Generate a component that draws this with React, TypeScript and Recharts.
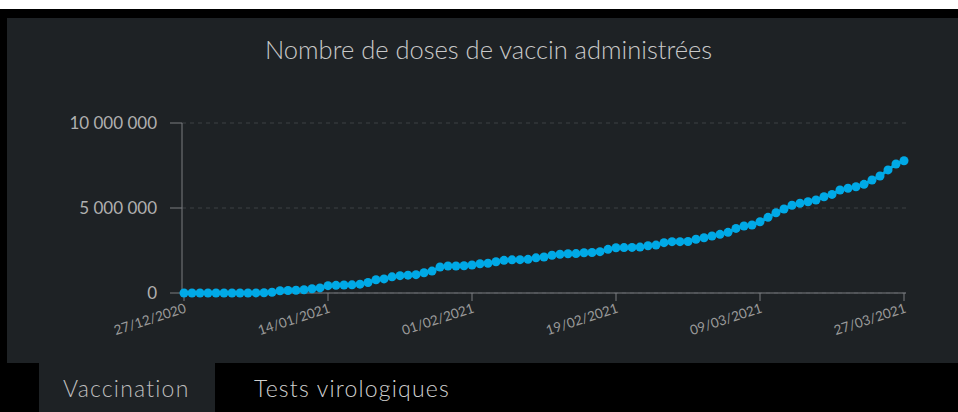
import { LineChart, Line, XAxis, YAxis, CartesianGrid } from "recharts";

// cumulative doses, one value per day from 27/12/2020 (day 0) to 27/03/2021 (day 90)
const doses = [
    0, 100, 200, 300, 500, 800, 1000, 1000, 3000, 7000,
    15000, 45000, 130000, 150000, 160000, 190000, 250000, 300000, 430000, 450000,
    470000, 480000, 520000, 620000, 780000, 830000, 950000, 1020000, 1050000, 1080000,
    1190000, 1290000, 1530000, 1590000, 1590000, 1600000, 1650000, 1720000, 1750000, 1840000,
    1920000, 1950000, 1960000, 1980000, 2070000, 2120000, 2220000, 2280000, 2310000, 2320000,
    2370000, 2380000, 2430000, 2570000, 2660000, 2670000, 2680000, 2700000, 2780000, 2820000,
    2960000, 3020000, 3020000, 3030000, 3160000, 3250000, 3350000, 3450000, 3570000, 3800000,
    3940000, 4000000, 4190000, 4450000, 4720000, 4940000, 5160000, 5280000, 5370000, 5470000,
    5660000, 5800000, 6060000, 6160000, 6250000, 6390000, 6650000, 6880000, 7240000, 7590000,
    7780000,
];

const tickDays = [0, 18, 36, 54, 72, 90];
const tickLabels = ["27/12/2020", "14/01/2021", "01/02/2021", "19/02/2021", "09/03/2021", "27/03/2021"];
const yTicks = [0, 5000000, 10000000];

const data = doses.map((v, i) => ({ day: i, doses: v }));

const panel = "#1e2225";

const fmt = (v: number) => String(v).replace(/\B(?=(\d{3})+(?!\d))/g, " ");

export default function App() {
    return (
        <div style={{ position: "absolute", left: 0, top: 0, width: 958, height: 412, background: "#000", overflow: "hidden", fontFamily: "Lato, sans-serif" }}>
            <div style={{ position: "absolute", left: 0, top: 0, width: 958, height: 9, background: "#fff" }} />
            <div style={{ position: "absolute", left: 7, top: 18, width: 951, height: 345, background: panel }} />

            {/* Title */}
            <div style={{ position: "absolute", left: 265, top: 34, whiteSpace: "nowrap", color: "#c9c9c9", fontSize: 25.5, fontWeight: 300 }}>
                Nombre de doses de vaccin administrées
            </div>

            {/* Chart */}
            <div style={{ position: "absolute", left: 0, top: 0 }}>
                <LineChart width={958} height={412} data={data} margin={{ top: 123, right: 52, bottom: 0, left: 0 }}>
                    <CartesianGrid vertical={false} strokeDasharray="4 4" stroke="#3c4044" />
                    <XAxis
                        dataKey="day"
                        type="number"
                        domain={[0, 90]}
                        ticks={tickDays}
                        tickFormatter={(d) => tickLabels[tickDays.indexOf(d)] ?? ""}
                        padding={{ left: 2, right: 2 }}
                        stroke="#7a7d80"
                        tickSize={8}
                        tickMargin={2}
                        angle={-18}
                        textAnchor="end"
                        tick={{ fill: "#9a9a9a", fontSize: 13.5 }}
                        height={119}
                    />
                    <YAxis
                        domain={[0, 10000000]}
                        ticks={yTicks}
                        tickFormatter={fmt}
                        width={182}
                        stroke="#7a7d80"
                        tickSize={12}
                        tickMargin={13}
                        tick={{ fill: "#b0b0b0", fontSize: 17 }}
                    />
                    <Line
                        type="linear"
                        dataKey="doses"
                        stroke="#00a9e6"
                        strokeWidth={3}
                        dot={{ r: 4.5, fill: "#00a9e6", stroke: "none" }}
                        isAnimationActive={false}
                    />
                </LineChart>
            </div>

            {/* Tabs */}
            <div style={{ position: "absolute", left: 39, top: 363, width: 176, height: 49, background: panel }} />
            <div style={{ position: "absolute", left: 63, top: 374, color: "#bdbdbd", fontSize: 23, fontWeight: 300, letterSpacing: 1.2 }}>Vaccination</div>
            <div style={{ position: "absolute", left: 254, top: 374, color: "#d0d0d0", fontSize: 23, fontWeight: 300, letterSpacing: 1.2 }}>Tests virologiques</div>
        </div>
    );
}
